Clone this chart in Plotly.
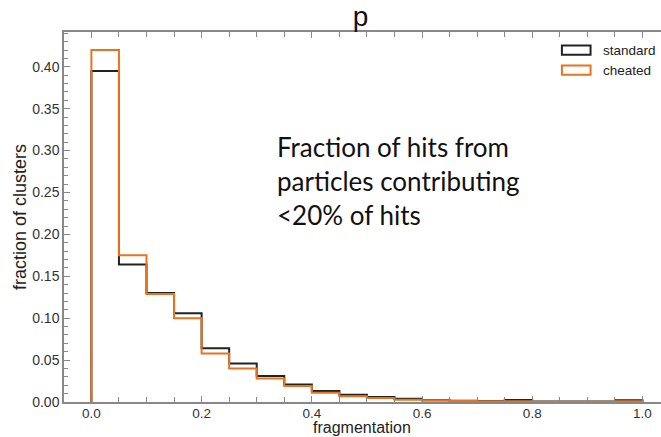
import plotly.graph_objects as go

bin_edges = [0.00, 0.05, 0.10, 0.15, 0.20, 0.25, 0.30, 0.35, 0.40, 0.45, 0.50,
             0.55, 0.60, 0.65, 0.70, 0.75, 0.80, 0.85, 0.90, 0.95, 1.00]
standard = [0.395, 0.164, 0.130, 0.106, 0.064, 0.046, 0.031, 0.021, 0.013, 0.0087,
            0.0060, 0.0040, 0.0022, 0.0016, 0.0013, 0.0024, 0.0006, 0.0005, 0.0005, 0.0020]
cheated = [0.420, 0.175, 0.129, 0.100, 0.058, 0.040, 0.028, 0.019, 0.011, 0.0068,
           0.0048, 0.0028, 0.0018, 0.0013, 0.0010, 0.0008, 0.0004, 0.0004, 0.0004, 0.0010]
series_names = ["standard", "cheated"]
series_colors = ["#222222", "#E8731E"]

def step_xy(edges, vals):
    xs = [edges[0]] + list(edges[:-1]) + [edges[-1]]
    ys = [0] + list(vals) + [0]
    return xs, ys

fig = go.Figure()
for name, vals, col in zip(series_names, [standard, cheated], series_colors):
    xs, ys = step_xy(bin_edges, vals)
    fig.add_trace(go.Scatter(x=xs, y=ys, mode="lines", line=dict(shape="hv", color=col, width=2),
                             name=name, showlegend=False))

# manual legend (box outlines)
leg_y = [0.420, 0.396]
for i, (name, col) in enumerate(zip(series_names, series_colors)):
    fig.add_shape(type="rect", xref="paper", yref="y", x0=0.834, x1=0.882,
                  y0=leg_y[i] - 0.0055, y1=leg_y[i] + 0.0055,
                  line=dict(color=col, width=2), fillcolor="rgba(0,0,0,0)")
    fig.add_annotation(xref="paper", yref="y", x=0.9, y=leg_y[i], text=name, showarrow=False,
                       xanchor="left", yanchor="middle",
                       font=dict(family="Liberation Sans, Arial", size=13.5, color="#222"))

fig.add_annotation(xref="paper", yref="paper", x=0.354, y=0.737,
                   text="Fraction of hits from<br>particles contributing<br>&lt;20% of hits",
                   showarrow=False, xanchor="left", yanchor="top", align="left",
                   font=dict(family="Lato", size=26, color="#111"))

# x-axis title placed as annotation to sit tight under tick labels
fig.add_annotation(xref="paper", yref="paper", x=0.4993, y=-0.0700, text="fragmentation",
                   showarrow=False, xanchor="center", yanchor="middle", borderpad=0,
                   font=dict(family="Liberation Sans, Arial", size=16, color="#222"))

axis_col = "#888888"
fig.update_layout(
    width=661, height=437,
    margin=dict(l=64, r=0, t=32, b=35),
    paper_bgcolor="white", plot_bgcolor="white",
    title=dict(text="p", x=0.5455, xanchor="center", y=0.985, yanchor="top",
               font=dict(family="Liberation Sans, Arial", size=28, color="#111")),
    showlegend=False,
)
fig.update_xaxes(range=[-0.0497, 1.0336], showgrid=False, zeroline=False,
                 showline=True, linecolor=axis_col, linewidth=1.5, mirror="allticks",
                 ticks="inside", ticklen=6, tickcolor=axis_col, tickwidth=1,
                 tick0=0, dtick=0.2, tickformat=".1f", ticklabelstandoff=-2,
                 minor=dict(ticks="inside", ticklen=5, dtick=0.05, tickcolor=axis_col, showgrid=False),
                 tickfont=dict(family="Liberation Sans, Arial", size=13.5, color="#333"))
fig.update_yaxes(range=[0, 0.4415], showgrid=False, zeroline=False,
                 showline=True, linecolor=axis_col, linewidth=1.5, mirror=False,
                 ticks="inside", ticklen=6, tickcolor=axis_col, tickwidth=1,
                 tick0=0, dtick=0.05, tickformat=".2f",
                 minor=dict(ticks="inside", ticklen=4, dtick=0.01, tickcolor=axis_col, showgrid=False),
                 tickfont=dict(family="Liberation Sans, Arial", size=14, color="#333"),
                 title=dict(text="fraction of clusters", standoff=1,
                            font=dict(family="Liberation Sans, Arial", size=18, color="#222")))

fig.write_html("out.html")
